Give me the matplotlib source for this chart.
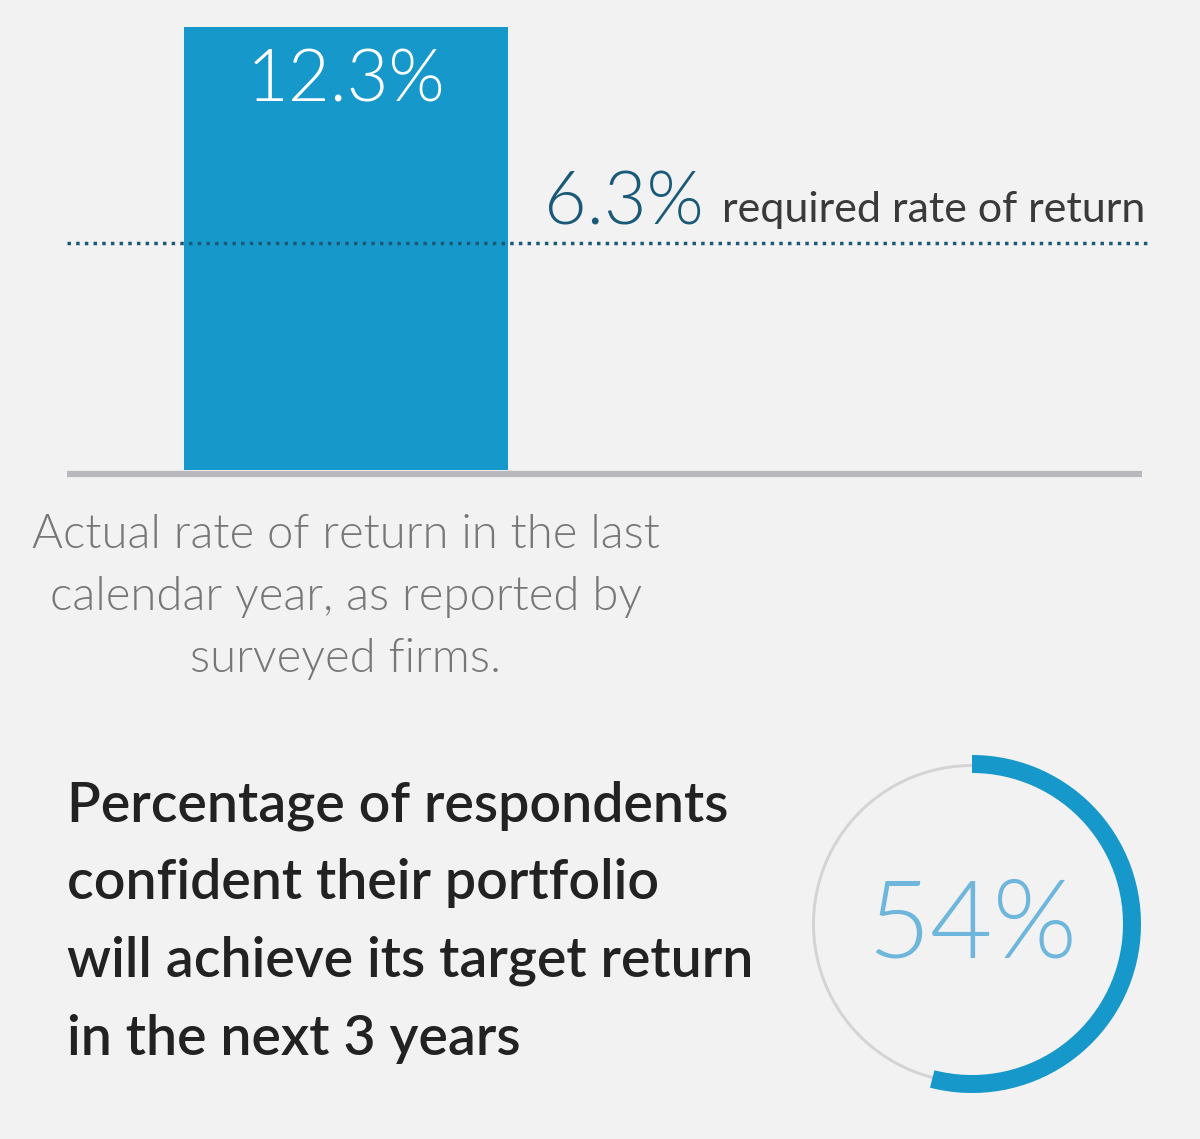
import numpy as np
import matplotlib.pyplot as plt

# data
actual_return = 12.3
required_return = 6.3
confident_pct = 54

bar_label = "12.3%"
req_label = "6.3%"
req_text = "required rate of return"
caption = "Actual rate of return in the last\ncalendar year, as reported by\nsurveyed firms."
question = ["Percentage of respondents", "confident their portfolio",
            "will achieve its target return", "in the next 3 years"]

BG = "#f2f2f2"
BLUE = "#1798cb"
DARK = "#1a5a78"
W, H = 1200, 1139

plt.rcParams['font.family'] = ['Lato', 'DejaVu Sans']

fig = plt.figure(figsize=(W / 100, H / 100), dpi=100, facecolor=BG)

def box(x0, y0, x1, y1):
    # pixel box -> figure fraction
    return [x0 / W, 1 - y1 / H, (x1 - x0) / W, (y1 - y0) / H]

# --- bar part ---
ax = fig.add_axes(box(67, 27, 1150, 470))
ax.set_facecolor('none')
ax.set_xlim(0, 1)
ax.set_ylim(0, actual_return)
ax.bar([0.2575], [actual_return], width=0.299, color=BLUE)
ax.axhline(required_return, color=DARK, lw=2.5, ls=(0, (1, 1.5)), xmin=0, xmax=1)
ax.plot([0, 0.993], [-0.11, -0.11], color="#b9b9bd", lw=4.5, clip_on=False,
        solid_capstyle='butt')
ax.text(0.2575, actual_return - 1.5, bar_label, ha='center', va='center',
        color='white', fontsize=52, fontweight=300)
ax.text(0.440, required_return + 1.1, req_label, ha='left', va='center',
        color=DARK, fontsize=53, fontweight=300)
ax.text(0.605, required_return + 0.92, req_text, ha='left', va='center',
        color='#3a3a3a', fontsize=31)
ax.axis('off')

# caption + question text
fig.text(346 / W, 1 - 597 / H, caption, ha='center', va='center',
         color='#777777', fontsize=34, fontweight=300, linespacing=1.6)
for i, line in enumerate(question):
    fig.text(67 / W, 1 - (806 + i * 77.5) / H, line, ha='left', va='center',
             color='#222222', fontsize=40, fontweight='semibold')

# --- donut ---
ax2 = fig.add_axes(box(792, 744, 1152, 1104))
ax2.set_facecolor('none')
ax2.pie([100], radius=160, colors=['#d4d4d6'], startangle=90,
        wedgeprops=dict(width=3, edgecolor='none'))
ax2.pie([confident_pct, 100 - confident_pct], radius=169,
        colors=[BLUE, 'none'], startangle=90, counterclock=False,
        wedgeprops=dict(width=18, edgecolor='none'))
ax2.set_xlim(-180, 180)
ax2.set_ylim(-180, 180)
ax2.set_aspect('equal')
ax2.text(0, -4, f"{confident_pct}%", ha='center', va='center',
         color='#6fb6dd', fontsize=78, fontweight=300)
ax2.axis('off')

fig.savefig('out.png', dpi=100, facecolor=BG)
